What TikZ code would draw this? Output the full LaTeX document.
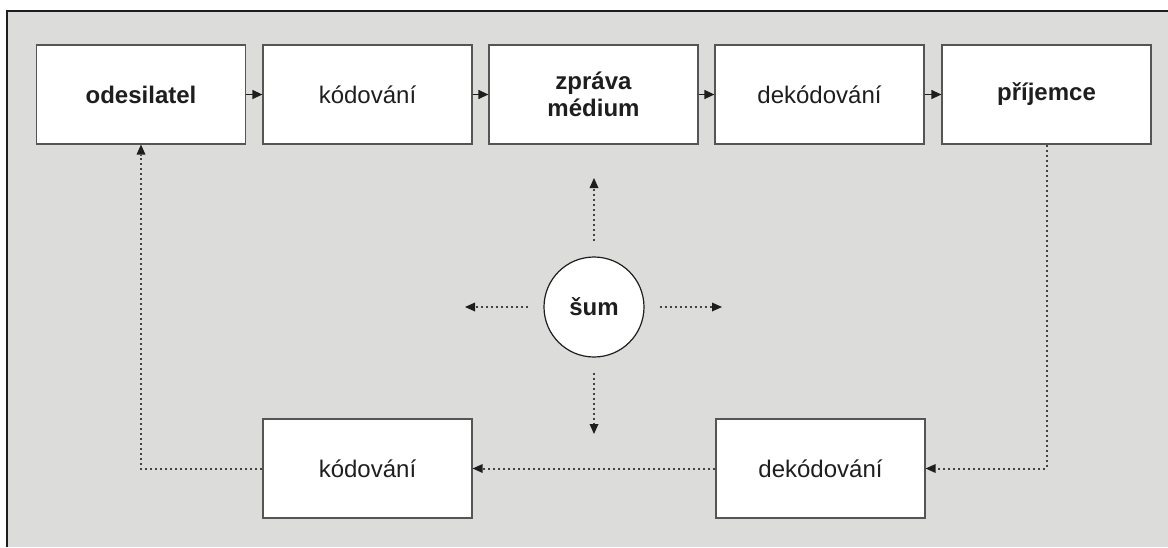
\documentclass[tikz,border=0pt]{standalone}
\usepackage{fontspec}
\setmainfont{Liberation Sans}
\usetikzlibrary{arrows.meta}
\definecolor{panel}{HTML}{DCDCDA}
\definecolor{edge}{HTML}{555555}
\definecolor{dots}{HTML}{444444}
\definecolor{ink}{HTML}{1E1E1E}
\begin{document}
\begin{tikzpicture}[x=1pt,y=-1pt,
  box/.style={draw=edge,line width=1.2pt,fill=white,minimum width=209pt,minimum height=99pt,inner sep=0pt,text=ink,font=\fontsize{24}{27}\selectfont,align=center},
  boldbox/.style={box,font=\fontsize{24}{27}\selectfont\bfseries},
  solidarrow/.style={draw=ink,line width=1.2pt,-{Triangle[length=10pt,width=9pt]}},
  dotarrow/.style={draw=dots,line width=2pt,dash pattern=on 2pt off 3pt,-{Triangle[length=10pt,width=9pt,fill=ink,line width=0pt]}}
  ]
\useasboundingbox (0,0) rectangle (1168,547);
\fill[panel] (7,11) rectangle (1168,547);
\draw[draw=ink,line width=2pt] (7,547) -- (7,11) -- (1168,11);

\node[boldbox] (o)  at (141,94.5)   {odesilatel};
\node[box]     (k1) at (367.5,94.5) {kódování};
\node[boldbox] (z)  at (593.5,94.5) {zpráva\\médium};
\node[box]     (d1) at (819.5,94.5) {dekódování};
\node[boldbox] (p)  at (1046.5,94.5) {příjemce};

\node[box] (k2) at (367.5,468.5) {kódování};
\node[box] (d2) at (820.5,468.5) {dekódování};

\node[circle,draw=ink,line width=1.2pt,fill=white,minimum size=100pt,inner sep=0pt,text=ink,font=\fontsize{24}{27}\selectfont\bfseries] (s) at (594,307) {šum};

\draw[solidarrow] (o) -- (k1);
\draw[solidarrow] (k1) -- (z);
\draw[solidarrow] (z) -- (d1);
\draw[solidarrow] (d1) -- (p);

\draw[dotarrow] (p.south) |- (d2.east);
\draw[dotarrow] (d2.west) -- (k2.east);
\draw[dotarrow] (k2.west) -| (o.south);

\coordinate (nu) at (594,178);
\coordinate (nd) at (594,434);
\coordinate (nl) at (465,307);
\coordinate (nr) at (722,307);
\draw[dotarrow,shorten <=15pt] (s.north) -- (nu);
\draw[dotarrow,shorten <=15pt] (s.south) -- (nd);
\draw[dotarrow,shorten <=15pt] (s.west) -- (nl);
\draw[dotarrow,shorten <=15pt] (s.east) -- (nr);
\end{tikzpicture}
\end{document}
